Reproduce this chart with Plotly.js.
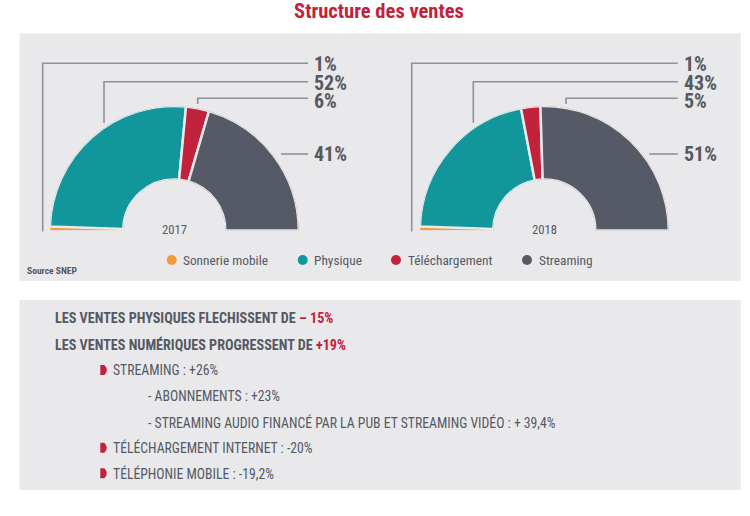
<!DOCTYPE html>
<html>
<head>
<meta charset="utf-8">
<script src="https://cdn.plot.ly/plotly-3.0.1.min.js"></script>
<style>html,body{margin:0;padding:0;background:#fff}#chart{width:750px;height:516px}</style>
</head>
<body>
<div id="chart"></div>
<script>
// ---- data ----
const categories = ['Sonnerie mobile', 'Physique', 'Téléchargement', 'Streaming'];
const colors = ['#f39a3b', '#11979b', '#c0233b', '#555a66'];
const years = ['2017', '2018'];
const shares2017 = [1, 52, 6, 41];
const shares2018 = [1, 43, 5, 51];
const title = 'Structure des ventes';
const source = 'Source SNEP';
const notes = [
  {lvl: 0, text: 'LES VENTES PHYSIQUES FLECHISSENT DE ', hi: '– 15%'},
  {lvl: 0, text: 'LES VENTES NUMÉRIQUES PROGRESSENT DE ', hi: '+19%'},
  {lvl: 1, text: 'STREAMING : +26%'},
  {lvl: 2, text: '- ABONNEMENTS : +23%'},
  {lvl: 2, text: '- STREAMING AUDIO FINANCÉ PAR LA PUB ET STREAMING VIDÉO : + 39,4%'},
  {lvl: 1, text: 'TÉLÉCHARGEMENT INTERNET : -20%'},
  {lvl: 1, text: 'TÉLÉPHONIE MOBILE : -19,2%'}
];

// ---- font selection: prefer a condensed face, size texts to the reference widths ----
const ctx = document.createElement('canvas').getContext('2d');
const probe = 'abcdefghijklmnopqrstuvwxyz ABCDEFGHIJ 0123456789';
function available(name) {
  ctx.font = '40px monospace'; const a = ctx.measureText(probe).width;
  ctx.font = '40px "' + name + '", monospace'; const b = ctx.measureText(probe).width;
  ctx.font = '40px serif'; const c = ctx.measureText(probe).width;
  ctx.font = '40px "' + name + '", serif'; const d = ctx.measureText(probe).width;
  return a !== b || c !== d;
}
const candidates = ['Roboto Condensed', 'Liberation Sans Narrow', 'Arial Narrow', 'Nimbus Sans Narrow', 'DejaVu Sans Condensed'];
const FAM = candidates.find(available) || 'DejaVu Sans Condensed';
const FONT = FAM + ', DejaVu Sans Condensed, sans-serif';
function fit(text, target, bold, maxSize) {
  ctx.font = (bold ? 'bold ' : '') + '100px "' + FAM + '"';
  const s = target / ctx.measureText(text).width * 100;
  return Math.min(s, maxSize);
}
const SZ = {
  title: fit(title, 170, true, 21),
  label: fit('52%', 33, true, 20),
  year: fit('2017', 25, false, 14),
  legend: fit('Sonnerie mobile', 85, false, 14),
  source: fit(source, 50, true, 11),
  head: fit('LES VENTES PHYSIQUES FLECHISSENT DE – 15%', 279, true, 15),
  note: fit('- STREAMING AUDIO FINANCÉ PAR LA PUB ET STREAMING VIDÉO : + 39,4%', 408, false, 14)
};

// ---- layout helpers ----
const W = 750, H = 516;
const px = x => x / W, py = y => 1 - y / H;
const BG = '#e9e9eb', TXT = '#555963', RED = '#c0233b', LINE = '#8e9197';

function slices(shares, sub) {
  let cum = 0;
  const theta = [], width = [];
  shares.forEach(v => { theta.push((cum + v / 2) * 1.8); width.push(v * 1.8); cum += v; });
  return {
    type: 'barpolar', subplot: sub,
    r: shares.map(() => 1), base: shares.map(() => 0),
    theta: theta, width: width, text: categories,
    marker: {color: colors, line: {color: BG, width: [1, 2.5, 2.5, 2.5]}},
    hoverinfo: 'skip', showlegend: false
  };
}

const charts = [
  {cx: 174.3, R: 124.5, labelX: 313, lineEnd: 308,
   leaders: [[42.7, 231.5], [104, 123], [197.7, 104], [281, null]]},
  {cx: 544.3, R: 124.5, labelX: 683, lineEnd: 677.7,
   leaders: [[411.7, 231.5], [473.3, 122.7], [566, 104], [649.3, null]]}
];
const baseY = 230.5;
const lineY = [63.3, 81.7, 98.3, 154];
const labelY = [63.5, 82.5, 101, 154];

const data = [slices(shares2017, 'polar'), slices(shares2018, 'polar2')];

function polar(c) {
  return {
    domain: {x: [px(c.cx - c.R), px(c.cx + c.R)], y: [py(baseY), py(baseY - c.R)]},
    sector: [0, 180], hole: 0.41, bgcolor: 'rgba(0,0,0,0)',
    radialaxis: {visible: false, range: [0, 1], showgrid: false},
    angularaxis: {visible: false, rotation: 180, direction: 'clockwise', showgrid: false}
  };
}

const shapes = [
  {type: 'rect', xref: 'paper', yref: 'paper', layer: 'below', x0: px(19.5), x1: px(740.7), y0: py(33.3), y1: py(281), fillcolor: BG, line: {width: 0}},
  {type: 'rect', xref: 'paper', yref: 'paper', layer: 'below', x0: px(19.5), x1: px(740.7), y0: py(300), y1: py(490), fillcolor: BG, line: {width: 0}}
];
const annotations = [];
const allShares = [shares2017, shares2018];

charts.forEach((c, k) => {
  c.leaders.forEach((p, i) => {
    let d;
    if (p[1] === null) d = `M${px(p[0])},${py(lineY[i])} L${px(c.lineEnd)},${py(lineY[i])}`;
    else d = `M${px(p[0])},${py(p[1])} L${px(p[0])},${py(lineY[i])} L${px(c.lineEnd)},${py(lineY[i])}`;
    shapes.push({type: 'path', xref: 'paper', yref: 'paper', path: d, line: {color: LINE, width: 1.6}});
    annotations.push({xref: 'paper', yref: 'paper', x: px(c.labelX), y: py(labelY[i]), xanchor: 'left', yanchor: 'middle',
      text: '<b>' + allShares[k][i] + '%</b>', showarrow: false, borderpad: 0, font: {family: FONT, size: SZ.label, color: TXT}});
  });
  annotations.push({xref: 'paper', yref: 'paper', x: px(c.cx), y: py(229), xanchor: 'center', yanchor: 'middle',
    text: years[k], showarrow: false, font: {family: FONT, size: SZ.year, color: TXT}});
});

// legend
const legX = [171.7, 302.7, 396, 527];
categories.forEach((name, i) => {
  shapes.push({type: 'circle', xref: 'paper', yref: 'paper', x0: px(legX[i] - 5), x1: px(legX[i] + 5), y0: py(260 - 5), y1: py(260 + 5), fillcolor: colors[i], line: {width: 0}});
  annotations.push({xref: 'paper', yref: 'paper', x: px(legX[i] + 9.5), y: py(260.5), xanchor: 'left', yanchor: 'middle',
    text: name, showarrow: false, font: {family: FONT, size: SZ.legend, color: TXT}});
});

annotations.push({xref: 'paper', yref: 'paper', x: px(25), y: py(270.5), xanchor: 'left', yanchor: 'middle',
  text: '<b>' + source + '</b>', showarrow: false, font: {family: FONT, size: SZ.source, color: TXT}});

// notes
const noteY = [317.7, 344, 370, 396, 422.3, 447.7, 473.3];
const noteX = [53, 111, 146];
notes.forEach((n, i) => {
  let t;
  if (n.lvl === 0) t = '<b>' + n.text + '<span style="color:' + RED + '">' + n.hi + '</span></b>';
  else t = n.text;
  annotations.push({xref: 'paper', yref: 'paper', x: px(noteX[n.lvl]), y: py(noteY[i]), xanchor: 'left', yanchor: 'middle',
    text: t, showarrow: false, font: {family: FONT, size: n.lvl === 0 ? SZ.head : SZ.note, color: TXT}});
  if (n.lvl === 1) {
    const y = noteY[i], x = 100.3;
    const d = `M${px(x)},${py(y - 5)} L${px(x + 4)},${py(y - 5)} Q${px(x + 9)},${py(y)} ${px(x + 4)},${py(y + 5)} L${px(x)},${py(y + 5)} Z`;
    shapes.push({type: 'path', xref: 'paper', yref: 'paper', path: d, fillcolor: RED, line: {width: 0}});
  }
});

const layout = {
  width: W, height: H,
  margin: {l: 0, r: 0, t: 0, b: 0},
  paper_bgcolor: '#ffffff',
  showlegend: false,
  title: {text: '<b>' + title + '</b>', x: px(379), xanchor: 'center', y: py(11), yanchor: 'middle', yref: 'container',
    font: {family: FONT, size: SZ.title, color: '#c4213a'}},
  polar: polar(charts[0]),
  polar2: polar(charts[1]),
  shapes: shapes,
  annotations: annotations,
  font: {family: FONT, color: TXT}
};

Plotly.newPlot('chart', data, layout, {displayModeBar: false, staticPlot: true});
</script>
</body>
</html>
